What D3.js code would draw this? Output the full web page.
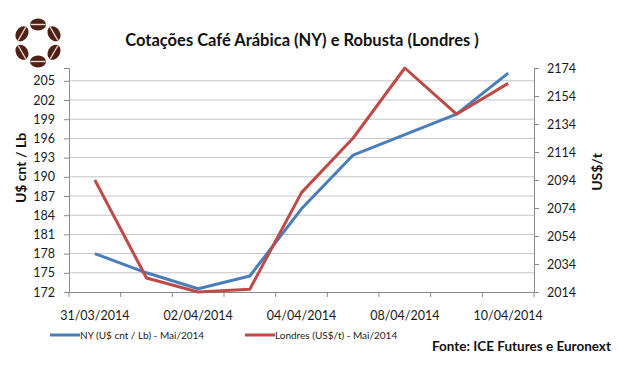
<!DOCTYPE html>
<html>
<head>
<meta charset="utf-8">
<script src="https://cdn.jsdelivr.net/npm/d3@7"></script>
<style>
  body { margin: 0; background: #fff; }
  text { font-family: Lato, "Open Sans", sans-serif; fill: #111; }
</style>
</head>
<body>
<svg id="chart" width="618" height="373"></svg>
<script>
// Data
var dates = ["31/03/2014", "01/04/2014", "02/04/2014", "03/04/2014", "04/04/2014",
             "07/04/2014", "08/04/2014", "09/04/2014", "10/04/2014"];
var nyValues = [178, 175, 172.5, 174.5, 185, 193.4, 196.6, 199.8, 206.2];
var londresValues = [2094, 2024, 2014, 2016, 2085, 2124, 2174, 2141, 2163];
var leftTicks = [172, 175, 178, 181, 184, 187, 190, 193, 196, 199, 202, 205];
var rightTicks = [2014, 2034, 2054, 2074, 2094, 2114, 2134, 2154, 2174];
var shownDates = ["31/03/2014", "02/04/2014", "04/04/2014", "08/04/2014", "10/04/2014"];

var svg = d3.select("#chart");

var plotLeft = 69, plotRight = 534, plotTop = 68, plotBottom = 292;

var x = d3.scaleBand().domain(dates).range([plotLeft, plotRight]);
var yLeft = d3.scaleLinear().domain([172, 207]).range([plotBottom, plotTop]);
var yRight = d3.scaleLinear().domain([2014, 2174]).range([plotBottom, plotTop]);

// gridlines on the left axis ticks
svg.append("g")
  .selectAll("line")
  .data(leftTicks.slice(1))
  .enter()
  .append("line")
  .attr("x1", plotLeft).attr("x2", plotRight)
  .attr("y1", function(d) { return yLeft(d); })
  .attr("y2", function(d) { return yLeft(d); })
  .style("stroke", "#c4c4c4")
  .style("stroke-width", 1);

// left axis
var leftAxis = svg.append("g")
  .attr("transform", "translate(" + plotLeft + ",0)")
  .call(d3.axisLeft(yLeft).tickValues(leftTicks).tickSizeOuter(0).tickSize(5).tickPadding(9));

// right axis
var rightAxis = svg.append("g")
  .attr("transform", "translate(" + plotRight + ",0)")
  .call(d3.axisRight(yRight).tickValues(rightTicks).tickFormat(d3.format("d"))
    .tickSizeOuter(0).tickSize(5).tickPadding(8));

// bottom axis: ticks between categories, every other label shown
var bottomAxis = svg.append("g")
  .attr("transform", "translate(0," + plotBottom + ")")
  .call(d3.axisBottom(x).tickSize(0).tickPadding(19)
    .tickFormat(function(d) { return shownDates.indexOf(d) >= 0 ? d : ""; }));

bottomAxis.selectAll(".boundary")
  .data(d3.range(dates.length + 1))
  .enter()
  .append("line")
  .attr("class", "boundary")
  .attr("x1", function(i) { return plotLeft + i * x.step(); })
  .attr("x2", function(i) { return plotLeft + i * x.step(); })
  .attr("y1", 0).attr("y2", 5);

[leftAxis, rightAxis, bottomAxis].forEach(function(a) {
  a.selectAll("path").style("stroke", "#8a8a8a");
  a.selectAll("line").style("stroke", "#8a8a8a");
  a.selectAll("text").style("font-size", "12.5px").style("fill", "#1a1a1a")
    .style("font-family", "Lato, sans-serif");
});

// lines
var nyLine = d3.line()
  .x(function(d, i) { return x(dates[i]) + x.bandwidth() / 2; })
  .y(function(d) { return yLeft(d); });

var londresLine = d3.line()
  .x(function(d, i) { return x(dates[i]) + x.bandwidth() / 2; })
  .y(function(d) { return yRight(d); });

svg.append("path")
  .datum(nyValues)
  .attr("d", nyLine)
  .style("fill", "none")
  .style("stroke", "#4a7ebb")
  .style("stroke-width", 3)
  .style("stroke-linejoin", "round");

svg.append("path")
  .datum(londresValues)
  .attr("d", londresLine)
  .style("fill", "none")
  .style("stroke", "#be4b48")
  .style("stroke-width", 3)
  .style("stroke-linejoin", "round");

// axis titles
svg.append("text")
  .attr("transform", "translate(26,168) rotate(-90)")
  .attr("text-anchor", "middle")
  .style("font-size", "14px").style("font-weight", "bold")
  .text("U$ cnt / Lb");

svg.append("text")
  .attr("transform", "translate(602,172) rotate(-90)")
  .attr("text-anchor", "middle")
  .style("font-size", "14px").style("font-weight", "bold")
  .text("US$/t");

// title
svg.append("text")
  .attr("x", 302).attr("y", 46)
  .attr("text-anchor", "middle")
  .style("font-size", "16.5px").style("font-weight", "bold")
  .text("Cotações Café Arábica (NY) e Robusta (Londres )");

// logo: ring of coffee beans
var logo = svg.append("g").attr("transform", "translate(38,43)");
var beanAngles = [-90, -30, 30, 90, 150, 210];
beanAngles.forEach(function(a) {
  var r = a * Math.PI / 180;
  var b = logo.append("g")
    .attr("transform", "translate(" + (18.5 * Math.cos(r)) + "," + (18.5 * Math.sin(r)) + ") rotate(" + (a + 90) + ")");
  b.append("ellipse").attr("rx", 8).attr("ry", 6).style("fill", "#4f2016");
  b.append("line").attr("x1", -7.5).attr("x2", 7.5).attr("y1", 0).attr("y2", 0)
    .style("stroke", "#ead9d0").style("stroke-width", 1.4);
});

// legend
var legend = [
  { name: "NY (U$ cnt / Lb) - Mai/2014", color: "#4a7ebb", x: 50 },
  { name: "Londres (US$/t) - Mai/2014", color: "#be4b48", x: 245 }
];
legend.forEach(function(l) {
  svg.append("line")
    .attr("x1", l.x).attr("x2", l.x + 30)
    .attr("y1", 335).attr("y2", 335)
    .style("stroke", l.color).style("stroke-width", 3);
  svg.append("text")
    .attr("x", l.x + 30).attr("y", 338.5)
    .style("font-size", "10px").style("fill", "#222")
    .text(l.name);
});

// source
svg.append("text")
  .attr("x", 432).attr("y", 350.5)
  .style("font-size", "13.5px").style("font-weight", "bold")
  .text("Fonte: ICE Futures e Euronext");
</script>
</body>
</html>
